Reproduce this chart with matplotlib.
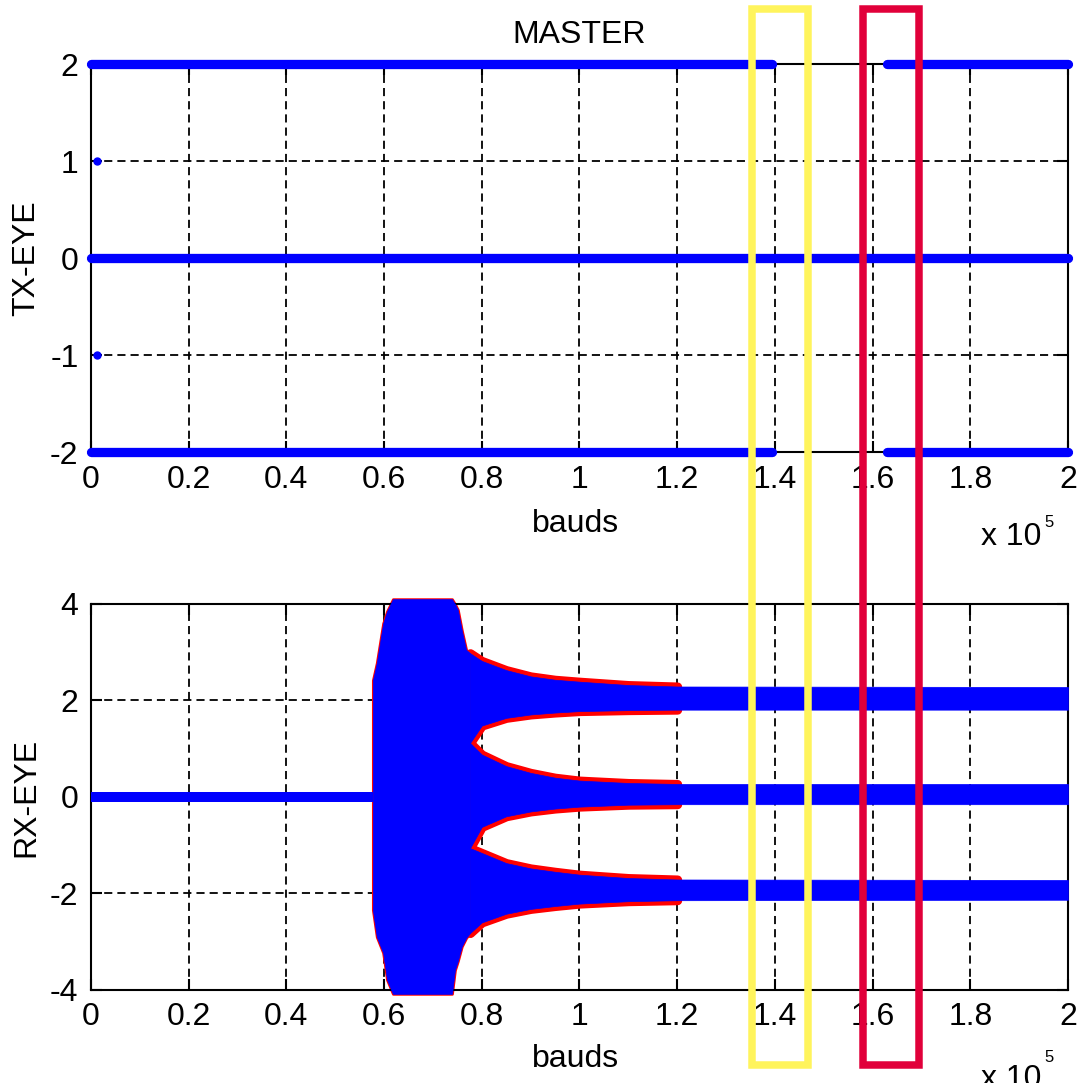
'''
Recreates the MASTER TX/RX eye diagram plot with the two highlighted baud windows
'''

import matplotlib
matplotlib.use('Agg')
import matplotlib.pyplot as plt
from matplotlib.patches import Rectangle
from matplotlib.transforms import blended_transform_factory

# x axis is in units of 1e5 bauds
x_ticks = [0, 0.2, 0.4, 0.6, 0.8, 1.0, 1.2, 1.4, 1.6, 1.8, 2.0]
x_tick_labels = ['0', '0.2', '0.4', '0.6', '0.8', '1', '1.2', '1.4', '1.6', '1.8', '2']
tx_y_ticks = [-2, -1, 0, 1, 2]
rx_y_ticks = [-4, -2, 0, 2, 4]

# TX eye: three constant levels, the outer ones drop out for a while
tx_levels = [2, 0, -2]
tx_span = [0.0, 2.0]
tx_gap = [1.395, 1.63]
tx_stray_x = [0.012, 0.012]
tx_stray_y = [1, -1]

# RX eye: idle line before the burst
rx_idle_x = [0.0, 0.577]
rx_idle_y = [0.0, 0.0]

# RX burst envelope, before the eyes open
burst_x = [0.577, 0.585, 0.598, 0.606, 0.618, 0.739, 0.745, 0.751, 0.759, 0.768, 0.776]
burst_top = [2.42, 2.78, 3.60, 3.85, 4.10, 4.10, 4.00, 3.88, 3.46, 3.05, 2.98]
burst_bot = [-2.34, -2.90, -3.23, -3.79, -4.08, -4.08, -3.59, -3.40, -3.10, -2.92, -2.82]

# RX envelopes once the two eyes open
eye_x = [0.776, 0.80, 0.85, 0.90, 0.95, 1.00, 1.10, 1.20, 2.00]
outer_top = [2.98, 2.82, 2.63, 2.50, 2.43, 2.39, 2.32, 2.29, 2.28]
upper_eye_top = [1.12, 1.48, 1.64, 1.71, 1.75, 1.78, 1.80, 1.81, 1.81]
upper_eye_bot = [1.12, 0.88, 0.64, 0.50, 0.40, 0.34, 0.29, 0.27, 0.27]
lower_eye_top = [-1.06, -0.62, -0.40, -0.30, -0.24, -0.20, -0.16, -0.15, -0.15]
lower_eye_bot = [-1.06, -1.16, -1.37, -1.48, -1.55, -1.61, -1.68, -1.71, -1.72]
outer_bot = [-2.82, -2.60, -2.42, -2.32, -2.26, -2.21, -2.16, -2.14, -2.13]

# highlighted baud windows (yellow, red)
highlight_ranges = [(1.353, 1.467), (1.580, 1.695)]
highlight_colors = ['#fff45c', '#e1003a']

BLUE = '#0000ff'
FRINGE = '#ff0000'


def style_axes(ax, yticks, ylabel):
    '''
    MATLAB-like box, dashed grid and inward ticks
    '''
    ax.set_xlim(0, 2)
    ax.set_ylim(min(yticks), max(yticks))
    ax.set_xticks(x_ticks)
    ax.set_xticklabels(x_tick_labels)
    ax.set_yticks(yticks)
    ax.set_yticklabels([str(v) for v in yticks])
    ax.set_axisbelow(True)
    ax.grid(True, color='black', linestyle=(0, (4.5, 2.8)), linewidth=1.3)
    ax.tick_params(direction='in', length=8, width=1.5, top=True, right=True,
                   labelsize=23, pad=9)
    for spine in ax.spines.values():
        spine.set_linewidth(1.5)

    ax.set_xlabel('bauds', fontsize=23)
    ax.xaxis.label.set_va('baseline')
    ax.set_ylabel(ylabel, fontsize=23)
    ax.yaxis.label.set_va('center')
    ax.yaxis.set_label_coords(-0.066, 0.5)


def draw_tx(ax):
    '''
    Top panel: the transmitted levels
    '''
    for level in tx_levels:
        if level == 0:
            segments = [tx_span]
        else:
            segments = [(tx_span[0], tx_gap[0]), (tx_gap[1], tx_span[1])]
        for x0, x1 in segments:
            ax.plot([x0, x1], [level, level], color=BLUE, lw=6.7,
                    solid_capstyle='round', clip_on=False, zorder=3)

    ax.plot(tx_stray_x, tx_stray_y, linestyle='None', marker='o', markersize=5,
            color=BLUE, zorder=3)


def draw_rx(ax):
    '''
    Bottom panel: the received eye, red fringe under the blue points
    '''
    ax.plot(rx_idle_x, rx_idle_y, color=BLUE, lw=7.2, solid_capstyle='butt', zorder=3)

    fringe = [x <= 1.2 for x in eye_x]
    bands = [(upper_eye_top, outer_top), (lower_eye_top, upper_eye_bot),
             (outer_bot, lower_eye_bot)]

    # red fringe
    ax.fill_between(burst_x, burst_bot, burst_top, facecolor=FRINGE, edgecolor=FRINGE,
                    lw=2, clip_on=False, zorder=2)
    for low, high in bands:
        ax.fill_between(eye_x, low, high, where=fringe, facecolor=FRINGE,
                        edgecolor=FRINGE, lw=6.5, zorder=2)

    # blue body
    ax.fill_between(burst_x, burst_bot, burst_top, facecolor=BLUE, edgecolor=BLUE,
                    lw=0.5, clip_on=False, zorder=3)
    for low, high in bands:
        ax.fill_between(eye_x, low, high, facecolor=BLUE, edgecolor=BLUE, lw=0.5,
                        clip_on=False, zorder=3)


def add_exponent(ax, y_base, y_sup):
    '''
    The "x 10^5" multiplier under the right end of the x axis
    '''
    ax.text(0.973, y_base, 'x 10', transform=ax.transAxes, fontsize=23,
            ha='right', va='baseline')
    ax.text(0.976, y_sup, '5', transform=ax.transAxes, fontsize=12,
            ha='left', va='baseline')


plt.rcParams['font.family'] = ['Liberation Sans', 'DejaVu Sans']
plt.rcParams['axes.unicode_minus'] = False

fig = plt.figure(figsize=(10.77, 10.83), dpi=100)
ax_tx = fig.add_axes([0.0845, 0.5826, 0.9071, 0.3583])
ax_rx = fig.add_axes([0.0845, 0.0859, 0.9071, 0.3564])

draw_tx(ax_tx)
style_axes(ax_tx, tx_y_ticks, 'TX-EYE')
ax_tx.set_title('MASTER', fontsize=23, pad=15)
ax_tx.xaxis.set_label_coords(0.496, -0.206)
add_exponent(ax_tx, -0.240, -0.193)

draw_rx(ax_rx)
style_axes(ax_rx, rx_y_ticks, 'RX-EYE')
ax_rx.xaxis.set_label_coords(0.496, -0.200)
add_exponent(ax_rx, -0.251, -0.187)

# highlight boxes spanning both panels
trans = blended_transform_factory(ax_tx.transData, fig.transFigure)
for (x0, x1), color in zip(highlight_ranges, highlight_colors):
    rect = Rectangle((x0, 0.0166), x1 - x0, 0.9751, transform=trans, fill=False,
                     edgecolor=color, lw=5.4, zorder=10)
    fig.add_artist(rect)

fig.savefig('out.png', dpi=100)
